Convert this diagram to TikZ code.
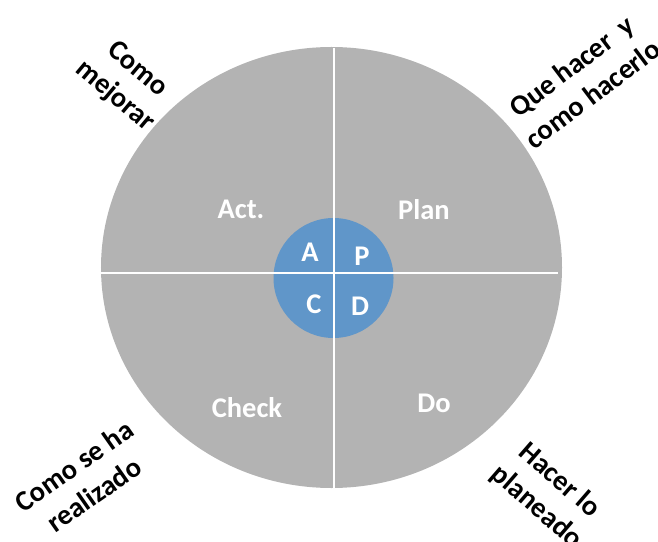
\documentclass[tikz,border=0pt]{standalone}
\usepackage{fontspec}
\setmainfont{Carlito}
\usetikzlibrary{shapes.geometric}
\definecolor{ringgray}{RGB}{179,179,179}
\definecolor{hubblue}{RGB}{96,150,201}
\begin{document}
\begin{tikzpicture}[x=1bp,y=-1bp,
  inlabel/.style={font=\fontsize{28.5bp}{33bp}\selectfont\bfseries, text=white, inner sep=0pt, anchor=base},
  outlabel/.style={font=\fontsize{28.5bp}{35bp}\selectfont\bfseries, text=black, align=center, inner sep=0pt},
  divider/.style={draw=white, line width=2bp}]
\useasboundingbox (0,0) rectangle (658,542);
\node[ellipse, fill=ringgray, minimum width=461bp, minimum height=441bp, inner sep=0pt] (ring) at (331.5,267.5) {};
\node[circle, fill=hubblue, minimum size=120bp, inner sep=0pt] (hub) at (333.5,278) {};
\coordinate (vtop) at (334,48);
\coordinate (vbot) at (334,488);
\coordinate (hleft) at (101,273);
\coordinate (hright) at (558,273);
\draw[divider] (vtop) -- (vbot);
\draw[divider] (hleft) -- (hright);
% quadrant labels
\node[inlabel] (act) at (241,219) {Act.};
\node[inlabel] (plan) at (424,220) {Plan};
\node[inlabel] (check) at (247,417) {Check};
\node[inlabel] (do) at (434,412) {Do};
% hub letters
\node[inlabel] (la) at (310,262) {A};
\node[inlabel] (lp) at (362,265) {P};
\node[inlabel] (lc) at (314,313) {C};
\node[inlabel] (ld) at (360,315) {D};
% outer labels
\node[outlabel, rotate=-40] (tl) at (126,83) {Como\\mejorar};
\node[outlabel, rotate=37] (tr) at (582,80) {Que hacer\ \ y\\como hacerlo};
\node[outlabel, rotate=35] (bl) at (84,480) {Como se ha\\realizado};
\node[outlabel, rotate=-41] (br) at (548,494) {Hacer lo\\planeado};
\end{tikzpicture}
\end{document}
